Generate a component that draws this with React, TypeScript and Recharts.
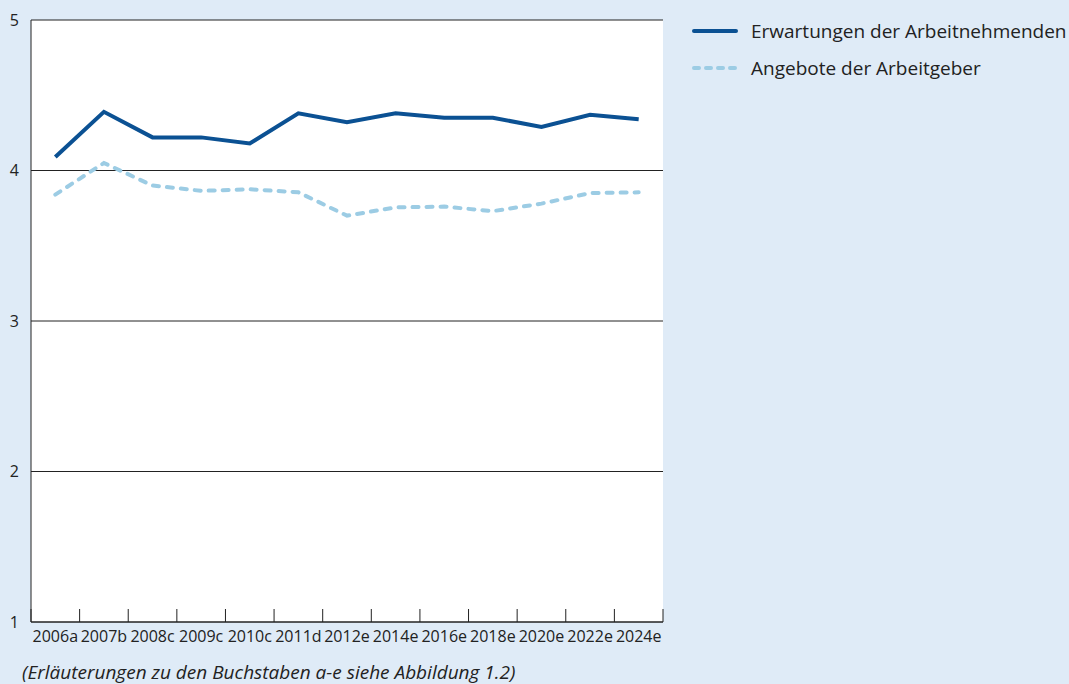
import { CartesianGrid, Legend, Line, LineChart, XAxis, YAxis } from "recharts";

const YEARS = ["2006a", "2007b", "2008c", "2009c", "2010c", "2011d", "2012e", "2014e", "2016e", "2018e", "2020e", "2022e", "2024e"];
const EXPECTED = [4.09, 4.39, 4.22, 4.22, 4.18, 4.38, 4.32, 4.38, 4.35, 4.35, 4.29, 4.37, 4.34];
const OFFERED = [3.84, 4.05, 3.9, 3.865, 3.875, 3.855, 3.7, 3.755, 3.76, 3.73, 3.78, 3.85, 3.855];
const Y_TICKS = [1, 2, 3, 4, 5];
const SERIES_NAMES = ["Erwartungen der Arbeitnehmenden", "Angebote der Arbeitgeber"];

const SOLID = "#0b5193";
const DASHED = "#9ccce4";
const INK = "#222";
const BG = "#dfebf7";
const FONT = "'Open Sans', 'Noto Sans', sans-serif";
const X_TICK_MARGIN = 9;
const EDGE_TICK = 13;

const data = YEARS.map((year, i) => ({
  year,
  expected: EXPECTED[i],
  offered: OFFERED[i],
}));

// Year label plus the short inward tick marks that sit on the band edges
// (left edge of every band, and the right edge of the last one).
function YearTick(props: {
  x?: number;
  y?: number;
  index?: number;
  visibleTicksCount?: number;
  payload?: { value: string; offset?: number };
}) {
  const { x = 0, y = 0, index = 0, visibleTicksCount = 0, payload } = props;
  const half = payload?.offset ?? 0;
  const base = y - X_TICK_MARGIN;
  const isLast = index === visibleTicksCount - 1;
  return (
    <g>
      <line x1={x - half} x2={x - half} y1={base} y2={base - EDGE_TICK} stroke={INK} />
      {isLast && <line x1={x + half} x2={x + half} y1={base} y2={base - EDGE_TICK} stroke={INK} />}
      <text x={x} y={y} dy="0.71em" textAnchor="middle" fontSize={16} fill={INK} fontFamily={FONT}>
        {payload?.value}
      </text>
    </g>
  );
}

type LegendItem = { value: string; color: string; payload?: { strokeDasharray?: string } };

function LegendContent({ payload }: { payload?: LegendItem[] }) {
  if (!payload) return null;
  // recharts sorts legend items by name; keep the series order instead
  const items = [...payload].sort((a, b) => SERIES_NAMES.indexOf(a.value) - SERIES_NAMES.indexOf(b.value));
  return (
    <div style={{ fontFamily: FONT, fontSize: 19, color: INK }}>
      {items.map((p) => (
        <div key={p.value} style={{ display: "flex", alignItems: "center", height: 37 }}>
          <svg width={46} height={6} style={{ marginRight: 13 }}>
            <line
              x1={2}
              y1={3}
              x2={44}
              y2={3}
              stroke={p.color}
              strokeWidth={4}
              strokeLinecap="round"
              strokeDasharray={p.payload?.strokeDasharray ? "5 7" : undefined}
            />
          </svg>
          <span>{p.value}</span>
        </div>
      ))}
    </div>
  );
}

export default function App() {
  return (
    <div style={{ position: "absolute", left: 0, top: 0, width: 1069, height: 684, background: BG, fontFamily: FONT }}>
      <LineChart width={1069} height={684} data={data} margin={{ top: 20, right: 406, left: 0, bottom: 0 }}>
        <CartesianGrid vertical={false} stroke={INK} strokeWidth={1} fill="#fff" fillOpacity={1} />
        <XAxis
          dataKey="year"
          scale="band"
          interval={0}
          height={62}
          axisLine={{ stroke: INK }}
          tickLine={false}
          tickSize={0}
          tickMargin={X_TICK_MARGIN}
          tick={<YearTick />}
        />
        <YAxis
          domain={[1, 5]}
          ticks={Y_TICKS}
          width={31}
          tickLine={false}
          tickSize={0}
          tickMargin={12}
          axisLine={{ stroke: INK }}
          tick={{ fontSize: 16, fill: INK, fontFamily: FONT }}
        />
        <Legend
          layout="vertical"
          verticalAlign="middle"
          align="center"
          wrapperStyle={{ left: 692, top: 12, width: 377 }}
          content={<LegendContent />}
        />
        <Line
          name={SERIES_NAMES[0]}
          dataKey="expected"
          stroke={SOLID}
          strokeWidth={4}
          dot={false}
          type="linear"
          isAnimationActive={false}
        />
        <Line
          name={SERIES_NAMES[1]}
          dataKey="offered"
          stroke={DASHED}
          strokeWidth={4}
          strokeDasharray="6 8"
          strokeLinecap="round"
          dot={false}
          type="linear"
          isAnimationActive={false}
        />
      </LineChart>
      <div
        style={{
          position: "absolute",
          left: 22,
          top: 659,
          fontSize: 19,
          fontStyle: "italic",
          color: INK,
          whiteSpace: "nowrap",
        }}
      >
        (Erläuterungen zu den Buchstaben a-e siehe Abbildung 1.2)
      </div>
    </div>
  );
}
